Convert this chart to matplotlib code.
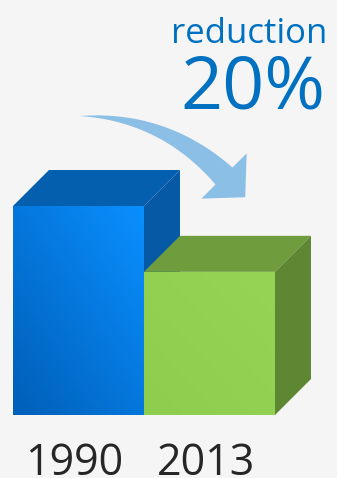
import numpy as np
import matplotlib
matplotlib.use('Agg')
import matplotlib.pyplot as plt
from matplotlib.colors import LinearSegmentedColormap
from matplotlib.patches import Polygon

# 数据
years = ['1990', '2013']
values = [100, 68.5]
headline = 'reduction'
pct_text = '20%'

front_cmaps = [
    LinearSegmentedColormap.from_list('b', ['#005fb8', '#0a8fff']),
    LinearSegmentedColormap.from_list('g', ['#8fcd4e', '#96d455']),
]
top_colors = ['#045fae', '#6f9d3d']
side_colors = ['#0559a5', '#5e8733']

plt.rcParams['font.family'] = ['Open Sans', 'DejaVu Sans']

W, H = 337, 478
fig = plt.figure(figsize=(W / 100, H / 100), dpi=100)
fig.patch.set_facecolor('#f5f5f5')

# 主坐标轴：柱子宽1，底部在像素415处
bar_px = 131.0
left_px = 13.0
base_px = 415.0
scale = 209.0 / values[0]        # 每单位像素
x_lo = -0.5 - left_px / bar_px
x_hi = x_lo + W / bar_px
y_lo = -(H - base_px) / scale
y_hi = y_lo + H / scale
dx = 36 / bar_px                 # 进深
dy = 36 / scale

ax = fig.add_axes([0, 0, 1, 1])
ax.set_facecolor('none')

xs = np.arange(len(values))
bars = ax.bar(xs, values, width=1.0, color='none', zorder=2)

for i, (b, v) in enumerate(zip(bars, values)):
    x0 = b.get_x()
    x1 = x0 + b.get_width()
    z = 2 + i * 3
    # 正面渐变
    yy, xx = np.mgrid[0:1:64j, 0:1:64j]
    grad = (xx + yy) / 2
    im = ax.imshow(grad, extent=[x0, x1, 0, v], origin='lower', aspect='auto',
                   cmap=front_cmaps[i], zorder=z)
    clip = Polygon([[x0, 0], [x1, 0], [x1, v], [x0, v]], closed=True,
                   facecolor='none', edgecolor='none', transform=ax.transData)
    ax.add_patch(clip)
    im.set_clip_path(clip)
    # 顶面
    ax.add_patch(Polygon([[x0, v], [x1, v], [x1 + dx, v + dy], [x0 + dx, v + dy]],
                         closed=True, facecolor=top_colors[i], edgecolor='none', zorder=z))
    # 侧面
    ax.add_patch(Polygon([[x1, 0], [x1, v], [x1 + dx, v + dy], [x1 + dx, dy]],
                         closed=True, facecolor=side_colors[i], edgecolor='none', zorder=z))
    # 年份
    ax.text(b.get_x() + b.get_width() / 2 - 0.03, -28.8, years[i], ha='center', va='baseline',
            fontsize=31, color='#262626', zorder=10)

ax.set_xlim(x_lo, x_hi)
ax.set_ylim(y_lo, y_hi)
ax.axis('off')

# 叠加层：箭头和文字（像素坐标）
ov = fig.add_axes([0, 0, 1, 1], zorder=5)
ov.set_xlim(0, W)
ov.set_ylim(H, 0)
ov.axis('off')
ov.patch.set_alpha(0)

p0 = np.array([80.0, 116.0])
p1 = np.array([164.0, 116.0])
p2 = np.array([224.0, 176.0])
t = np.linspace(0, 1, 60)[:, None]
c = (1 - t) ** 2 * p0 + 2 * (1 - t) * t * p1 + t ** 2 * p2
d = 2 * (1 - t) * (p1 - p0) + 2 * t * (p2 - p1)
d = d / np.linalg.norm(d, axis=1, keepdims=True)
n = np.column_stack([d[:, 1], -d[:, 0]])
w = 12 * t
upper = c + n * w
lower = c - n * w
dir_end = d[-1]
n_end = n[-1]
wing1 = p2 + n_end * 32
wing2 = p2 - n_end * 32
tip = p2 + dir_end * 30
pts = np.vstack([upper, [wing1], [tip], [wing2], lower[::-1]])
ov.add_patch(Polygon(pts, closed=True, facecolor='#8bbfe6', edgecolor='none'))

ov.text(327, 43, headline, ha='right', va='baseline', fontsize=25, color='#0070c0')
ov.text(325, 108, pct_text, ha='right', va='baseline', fontsize=53, color='#0070c0')

fig.savefig('out.png', dpi=100, facecolor=fig.get_facecolor())
